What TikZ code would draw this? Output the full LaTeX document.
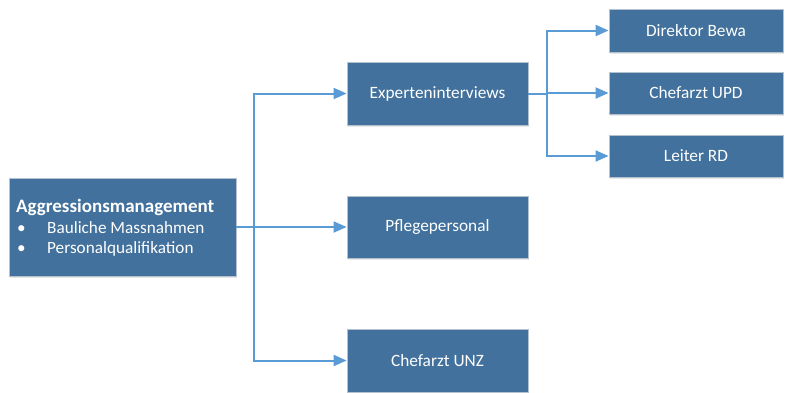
\documentclass[tikz,border=0pt]{standalone}
\usepackage{fontspec}
\setmainfont{Carlito}
\usetikzlibrary{arrows.meta,shadows}
\definecolor{boxblue}{HTML}{41719C}
\definecolor{boxedge}{HTML}{B4C2D0}
\definecolor{linkblue}{HTML}{5B9BD5}
\tikzset{
  card/.style={rectangle, fill=boxblue, draw=boxedge, line width=0.8pt,
    text=white, font=\fontsize{17.3}{20}\selectfont, inner sep=0pt,
    drop shadow={opacity=0.18, shadow xshift=1.2pt, shadow yshift=-1.5pt}},
  label/.style={text=white, inner sep=0pt, anchor=base west},
  link/.style={draw=linkblue, line width=2pt},
  arrow/.style={link, -{Triangle[length=13pt,width=11pt]}}
}
\begin{document}
\begin{tikzpicture}[x=1pt,y=-1pt]
\useasboundingbox (0,0) rectangle (795,392);
\begin{scope}
\clip (0,0) rectangle (795,392);
% main topic box with its two bullet points
\node[card, minimum width=227pt, minimum height=98pt] (aggr) at (122.5,227) {};
\node[label, font=\bfseries\fontsize{19}{22}\selectfont] (title) at (16,212.5) {Aggressionsmanagement};
\node[label, font=\fontsize{17.2}{20}\selectfont] (b1) at (17,233) {\textbullet};
\node[label, font=\fontsize{17.2}{20}\selectfont] (t1) at (47,233) {Bauliche Massnahmen};
\node[label, font=\fontsize{17.2}{20}\selectfont] (b2) at (17,253.5) {\textbullet};
\node[label, font=\fontsize{17.2}{20}\selectfont] (t2) at (47,253.5) {Personalqualifikation};

% second level
\node[card, minimum width=181pt, minimum height=63pt] (exp) at (437.5,93.5) {Experteninterviews};
\node[card, minimum width=181pt, minimum height=62pt] (pflege) at (437.5,227) {Pflegepersonal};
\node[card, minimum width=181pt, minimum height=63pt] (unz) at (437.5,360.5) {Chefarzt UNZ};

% third level
\node[card, minimum width=174pt, minimum height=43pt] (bewa) at (696,30.5) {Direktor Bewa};
\node[card, minimum width=174pt, minimum height=42pt] (upd) at (696,93) {Chefarzt UPD};
\node[card, minimum width=174pt, minimum height=42pt] (rd) at (696,156) {Leiter RD};

% connectors
\coordinate (j1) at (254,227);
\coordinate (j2) at (547,93.5);
\draw[link] (aggr.east) -- (j1);
\draw[arrow] (j1) |- (exp.west);
\draw[arrow] (j1) -- (pflege.west);
\draw[arrow] (j1) |- (unz.west);
\draw[link] (exp.east) -- (j2);
\draw[arrow] (j2) |- (bewa.west);
\draw[arrow] (j2) |- (upd.west);
\draw[arrow] (j2) |- (rd.west);
\end{scope}
\end{tikzpicture}
\end{document}
